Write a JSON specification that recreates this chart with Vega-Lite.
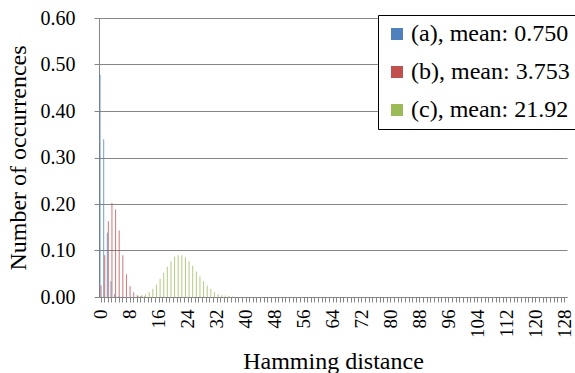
{
  "$schema": "https://vega.github.io/schema/vega-lite/v6.json",
  "autosize": "none",
  "padding": {"left": 99, "top": 18, "right": 8, "bottom": 76},
  "width": 468,
  "height": 279,
  "background": "white",
  "config": {
    "font": "Liberation Serif",
    "view": {"stroke": null},
    "axis": {"labelFont": "Liberation Serif", "titleFont": "Liberation Serif"},
    "legend": {"labelFont": "Liberation Serif"}
  },
  "data": {
    "values": [
      {"d": 0, "s": "(a), mean: 0.750", "v": 0.478},
      {"d": 1, "s": "(a), mean: 0.750", "v": 0.339},
      {"d": 2, "s": "(a), mean: 0.750", "v": 0.138},
      {"d": 3, "s": "(a), mean: 0.750", "v": 0.034},
      {"d": 4, "s": "(a), mean: 0.750", "v": 0.006},
      {"d": 5, "s": "(a), mean: 0.750", "v": 0.001},
      {"d": 0, "s": "(b), mean: 3.753", "v": 0.025},
      {"d": 1, "s": "(b), mean: 3.753", "v": 0.090},
      {"d": 2, "s": "(b), mean: 3.753", "v": 0.163},
      {"d": 3, "s": "(b), mean: 3.753", "v": 0.202},
      {"d": 4, "s": "(b), mean: 3.753", "v": 0.188},
      {"d": 5, "s": "(b), mean: 3.753", "v": 0.143},
      {"d": 6, "s": "(b), mean: 3.753", "v": 0.090},
      {"d": 7, "s": "(b), mean: 3.753", "v": 0.049},
      {"d": 8, "s": "(b), mean: 3.753", "v": 0.023},
      {"d": 9, "s": "(b), mean: 3.753", "v": 0.010},
      {"d": 10, "s": "(b), mean: 3.753", "v": 0.004},
      {"d": 11, "s": "(b), mean: 3.753", "v": 0.002},
      {"d": 12, "s": "(b), mean: 3.753", "v": 0.001},
      {"d": 10, "s": "(c), mean: 21.92", "v": 0.002},
      {"d": 11, "s": "(c), mean: 21.92", "v": 0.004},
      {"d": 12, "s": "(c), mean: 21.92", "v": 0.006},
      {"d": 13, "s": "(c), mean: 21.92", "v": 0.011},
      {"d": 14, "s": "(c), mean: 21.92", "v": 0.018},
      {"d": 15, "s": "(c), mean: 21.92", "v": 0.027},
      {"d": 16, "s": "(c), mean: 21.92", "v": 0.039},
      {"d": 17, "s": "(c), mean: 21.92", "v": 0.052},
      {"d": 18, "s": "(c), mean: 21.92", "v": 0.065},
      {"d": 19, "s": "(c), mean: 21.92", "v": 0.077},
      {"d": 20, "s": "(c), mean: 21.92", "v": 0.087},
      {"d": 21, "s": "(c), mean: 21.92", "v": 0.090},
      {"d": 22, "s": "(c), mean: 21.92", "v": 0.090},
      {"d": 23, "s": "(c), mean: 21.92", "v": 0.085},
      {"d": 24, "s": "(c), mean: 21.92", "v": 0.077},
      {"d": 25, "s": "(c), mean: 21.92", "v": 0.067},
      {"d": 26, "s": "(c), mean: 21.92", "v": 0.055},
      {"d": 27, "s": "(c), mean: 21.92", "v": 0.044},
      {"d": 28, "s": "(c), mean: 21.92", "v": 0.034},
      {"d": 29, "s": "(c), mean: 21.92", "v": 0.024},
      {"d": 30, "s": "(c), mean: 21.92", "v": 0.017},
      {"d": 31, "s": "(c), mean: 21.92", "v": 0.011},
      {"d": 32, "s": "(c), mean: 21.92", "v": 0.006},
      {"d": 33, "s": "(c), mean: 21.92", "v": 0.004},
      {"d": 34, "s": "(c), mean: 21.92", "v": 0.003},
      {"d": 35, "s": "(c), mean: 21.92", "v": 0.002},
      {"d": 36, "s": "(c), mean: 21.92", "v": 0.001}
    ]
  },
  "mark": {"type": "bar", "opacity": 0.75},
  "encoding": {
    "x": {
      "field": "d",
      "type": "ordinal",
      "scale": {
        "domain": [0,1,2,3,4,5,6,7,8,9,10,11,12,13,14,15,16,17,18,19,20,21,22,23,24,25,26,27,28,29,30,31,32,33,34,35,36,37,38,39,40,41,42,43,44,45,46,47,48,49,50,51,52,53,54,55,56,57,58,59,60,61,62,63,64,65,66,67,68,69,70,71,72,73,74,75,76,77,78,79,80,81,82,83,84,85,86,87,88,89,90,91,92,93,94,95,96,97,98,99,100,101,102,103,104,105,106,107,108,109,110,111,112,113,114,115,116,117,118,119,120,121,122,123,124,125,126,127,128],
        "paddingInner": 0.15,
        "paddingOuter": 0.15
      },
      "axis": {
        "title": "Hamming distance",
        "titleFont": "Liberation Serif",
        "titleFontSize": 24,
        "titleFontWeight": "normal",
        "titleColor": "black",
        "titlePadding": 12,
        "labelFont": "Liberation Serif",
        "labelExpr": "datum.value % 8 == 0 ? datum.value : ''",
        "labelAngle": -90,
        "labelFontSize": 19,
        "labelColor": "black",
        "labelOverlap": false,
        "labelPadding": 7,
        "tickColor": "#868686",
        "tickSize": 5,
        "domainColor": "#868686",
        "grid": false,
        "zindex": 0
      }
    },
    "xOffset": {"field": "s", "type": "nominal", "sort": ["(a), mean: 0.750", "(b), mean: 3.753", "(c), mean: 21.92"]},
    "y": {
      "field": "v",
      "type": "quantitative",
      "scale": {"domain": [0, 0.6], "nice": false},
      "axis": {
        "title": "Number of occurrences",
        "titleFont": "Liberation Serif",
        "titleFontSize": 24,
        "titleFontWeight": "normal",
        "titleColor": "black",
        "titlePadding": 10,
        "values": [0, 0.1, 0.2, 0.3, 0.4, 0.5, 0.6],
        "format": ".2f",
        "labelFont": "Liberation Serif",
        "labelFontSize": 20,
        "labelColor": "black",
        "labelPadding": 19,
        "tickColor": "#868686",
        "tickSize": 5,
        "domainColor": "#868686",
        "gridColor": "#868686",
        "gridOpacity": 1,
        "zindex": 0
      }
    },
    "color": {
      "field": "s",
      "type": "nominal",
      "scale": {
        "domain": ["(a), mean: 0.750", "(b), mean: 3.753", "(c), mean: 21.92"],
        "range": ["#4F81BD", "#C0504D", "#9BBB59"]
      },
      "legend": {
        "title": null,
        "orient": "none",
        "legendX": 279,
        "legendY": -3,
        "strokeColor": "black",
        "fillColor": "white",
        "padding": 7,
        "symbolType": "square",
        "symbolSize": 144,
        "symbolStrokeWidth": 0,
        "symbolOpacity": 1,
        "labelFontSize": 24,
        "labelFont": "Liberation Serif",
        "labelColor": "black",
        "labelLimit": 300,
        "labelOffset": 2,
        "rowPadding": 14
      }
    }
  }
}
